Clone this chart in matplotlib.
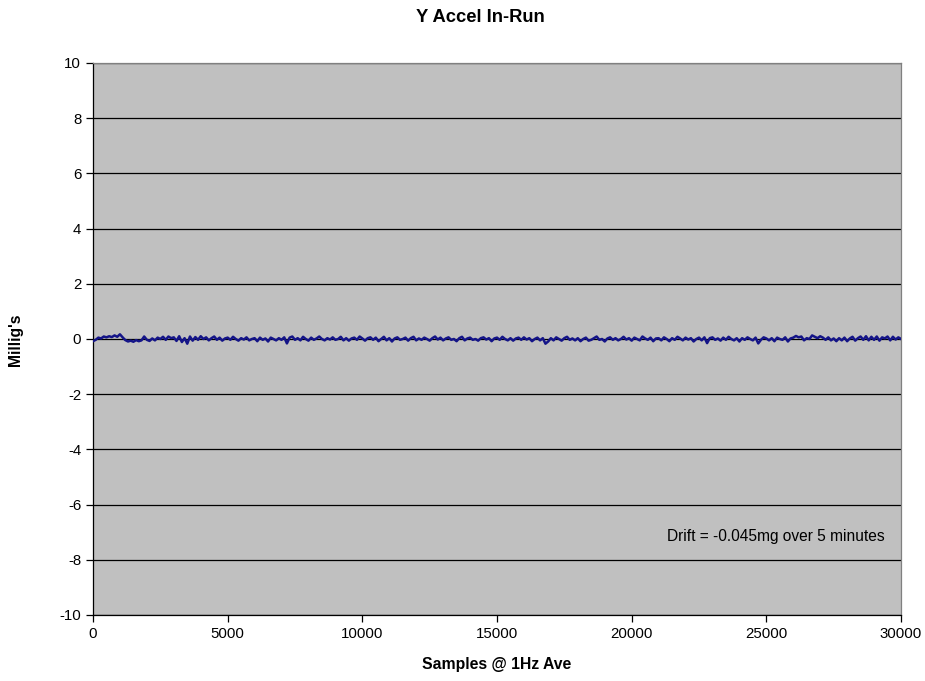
import matplotlib
matplotlib.use("Agg")
import matplotlib.pyplot as plt
import numpy as np

plt.rcParams['font.family'] = ['Liberation Sans', 'DejaVu Sans']
plt.rcParams['axes.unicode_minus'] = False

# Y accelerometer in-run readings (milli-g), one value every 100 samples
sample_step = 100
accel_mg = [
    -0.08, -0.03, 0.05, 0.02, 0.09, 0.06, 0.10, 0.07, 0.13, 0.08,   # 0-900
    0.17, 0.06, -0.04, -0.09, -0.06, -0.10, -0.04, -0.08, -0.05, 0.09,
    -0.03, -0.07, 0.02, -0.05, 0.05, 0.00, 0.08, -0.03, 0.09, 0.03,
    0.06, -0.07, 0.10, -0.11, 0.03, -0.17, 0.09, -0.06, 0.07, -0.03,
    0.10, 0.00, 0.06, -0.05, 0.03, 0.09, -0.03, 0.05, -0.06, 0.02,
    0.05, -0.03, 0.08, 0.00, -0.06, 0.03, -0.02, 0.06, -0.05, 0.00,
    0.03, -0.08, 0.05, -0.03, 0.02, -0.09, 0.05, 0.00, -0.05, 0.03,
    -0.03, 0.06, -0.16, 0.05, 0.09, -0.03, 0.03, -0.05, 0.08, 0.00,
    -0.06, 0.05, -0.03, 0.02, 0.09, 0.00, -0.05, 0.03, -0.02, 0.06,
    -0.03, 0.00, 0.08, -0.05, 0.03, -0.06, 0.02, 0.05, -0.03, 0.09,
    0.02, -0.06, 0.03, 0.06, -0.03, 0.05, -0.08, 0.00, 0.08, -0.05,     # 10000
    0.03, -0.09, 0.02, 0.06, -0.03, 0.00, 0.05, -0.06, 0.03, 0.08,
    -0.05, 0.02, -0.03, 0.05, 0.00, -0.06, 0.03, 0.09, -0.02, 0.05,
    -0.05, 0.02, 0.06, -0.03, 0.00, -0.08, 0.03, 0.08, -0.05, 0.02,
    0.05, -0.03, 0.00, -0.06, 0.03, 0.06, -0.02, 0.03, -0.08, 0.02,
    0.05, -0.03, 0.08, 0.00, -0.05, 0.03, -0.06, 0.02, 0.05, -0.03,
    0.06, -0.02, 0.03, -0.08, 0.00, 0.05, -0.05, 0.03, -0.17, -0.09,
    0.03, -0.05, 0.06, 0.00, -0.06, 0.03, 0.08, -0.03, 0.02, -0.05,
    0.03, -0.08, 0.00, 0.05, -0.06, -0.03, 0.03, 0.09, -0.03, 0.00,
    -0.09, 0.02, 0.06, -0.03, 0.03, -0.05, 0.00, 0.08, -0.02, 0.03,
    -0.06, 0.05, 0.00, -0.05, 0.09, 0.02, -0.03, 0.05, -0.08, 0.02,     # 20000
    0.03, -0.05, 0.06, 0.00, -0.08, 0.03, -0.03, 0.08, 0.02, -0.05,
    0.05, -0.02, 0.03, -0.09, 0.00, 0.05, -0.05, 0.06, -0.15, 0.03,
    0.06, -0.03, 0.02, -0.06, 0.05, -0.03, 0.08, 0.00, -0.05, 0.03,
    -0.09, 0.03, -0.03, 0.06, 0.00, -0.05, 0.05, -0.16, -0.03, 0.06,
    0.02, -0.05, 0.03, -0.08, 0.05, 0.00, -0.03, 0.06, -0.09, 0.02,
    0.05, 0.11, 0.06, 0.09, -0.05, 0.03, 0.00, 0.13, 0.08, 0.03,
    0.10, 0.05, -0.03, 0.06, -0.05, 0.02, -0.08, 0.03, -0.05, 0.05,
    -0.08, 0.02, 0.08, -0.06, 0.03, 0.09, -0.03, 0.10, -0.05, 0.08,
    -0.03, 0.09, -0.06, 0.06, 0.02, 0.09, -0.05, 0.08, -0.02, 0.06,
    0.00,
]
samples = np.arange(len(accel_mg)) * sample_step

y_ticks = list(range(-10, 11, 2))
x_ticks = list(range(0, 30001, 5000))

fig = plt.figure(figsize=(9.25, 6.81), dpi=100)
ax = fig.add_axes([93 / 925, 1 - 615 / 681, 808 / 925, 552 / 681])
ax.set_facecolor('#C0C0C0')

for t in y_ticks:
    ax.axhline(t, color='black', lw=0.9, zorder=1)

ax.plot(samples, accel_mg, color='#141488', lw=1.8, zorder=3)

ax.set_xlim(0, 30000)
ax.set_ylim(-10, 10)
ax.set_xticks(x_ticks)
ax.set_yticks(y_ticks)
ax.tick_params(direction='out', length=5, width=0.9, labelsize=10.8, colors='black')

for side in ('top', 'right'):
    ax.spines[side].set_color('#808080')
for side in ('left', 'bottom'):
    ax.spines[side].set_color('black')
for s in ax.spines.values():
    s.set_linewidth(0.9)

ax.text(0.98, 0.1415, 'Drift = -0.045mg over 5 minutes', transform=ax.transAxes,
        ha='right', va='center', fontsize=11.2)

fig.text(480 / 925, 1 - 17 / 681, 'Y Accel In-Run', ha='center', va='center',
         fontsize=13.2, fontweight='bold')
fig.text(497 / 925, 1 - 665 / 681, 'Samples @ 1Hz Ave', ha='center', va='center',
         fontsize=11.3, fontweight='bold')
fig.text(16 / 925, 1 - 340 / 681, "Millig's", ha='center', va='center',
         rotation=90, fontsize=11.3, fontweight='bold')

fig.savefig('out.png', dpi=100, facecolor='white')
